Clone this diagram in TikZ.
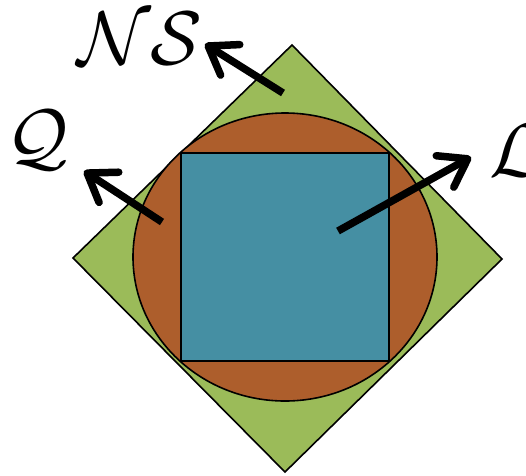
\documentclass[tikz,border=0pt]{standalone}
\usetikzlibrary{arrows.meta}
\definecolor{diamondgreen}{HTML}{9BBB59}
\definecolor{ellipsebrown}{HTML}{AD5E2C}
\definecolor{squareblue}{HTML}{458FA3}
\begin{document}
\begin{tikzpicture}[x=1pt,y=-1pt,
    outline/.style={draw=black,line width=1.6pt},
    pointer/.style={-{Straight Barb[length=26pt,width=36pt,round]},line width=7.5pt},
    letter/.style={inner sep=0pt,scale=7.6}]
  \useasboundingbox (0,0) rectangle (526,475);
  \draw[outline,fill=diamondgreen] (292,45) -- (502,259) -- (285,472) -- (73,258) -- cycle;
  \draw[outline,fill=ellipsebrown] (285,257) ellipse [x radius=152,y radius=144];
  \draw[outline,fill=squareblue] (181,153) rectangle (389,361);
  \coordinate (nstail) at (283,93);
  \coordinate (nstip) at (205,44);
  \coordinate (qtail) at (162,222);
  \coordinate (qtip) at (84,171);
  \coordinate (ltail) at (338,231);
  \coordinate (ltip) at (471,157);
  \draw[pointer] (nstail) -- (nstip);
  \draw[pointer] (qtail) -- (qtip);
  \draw[pointer] (ltail) -- (ltip);
  \node[letter] (ns) at (140,39) {$\mathcal{N}\mathcal{S}$};
  \node[letter] (q) at (38,140) {$\mathcal{Q}$};
  \node[letter] (l) at (516,151) {$\mathcal{L}$};
\end{tikzpicture}
\end{document}
